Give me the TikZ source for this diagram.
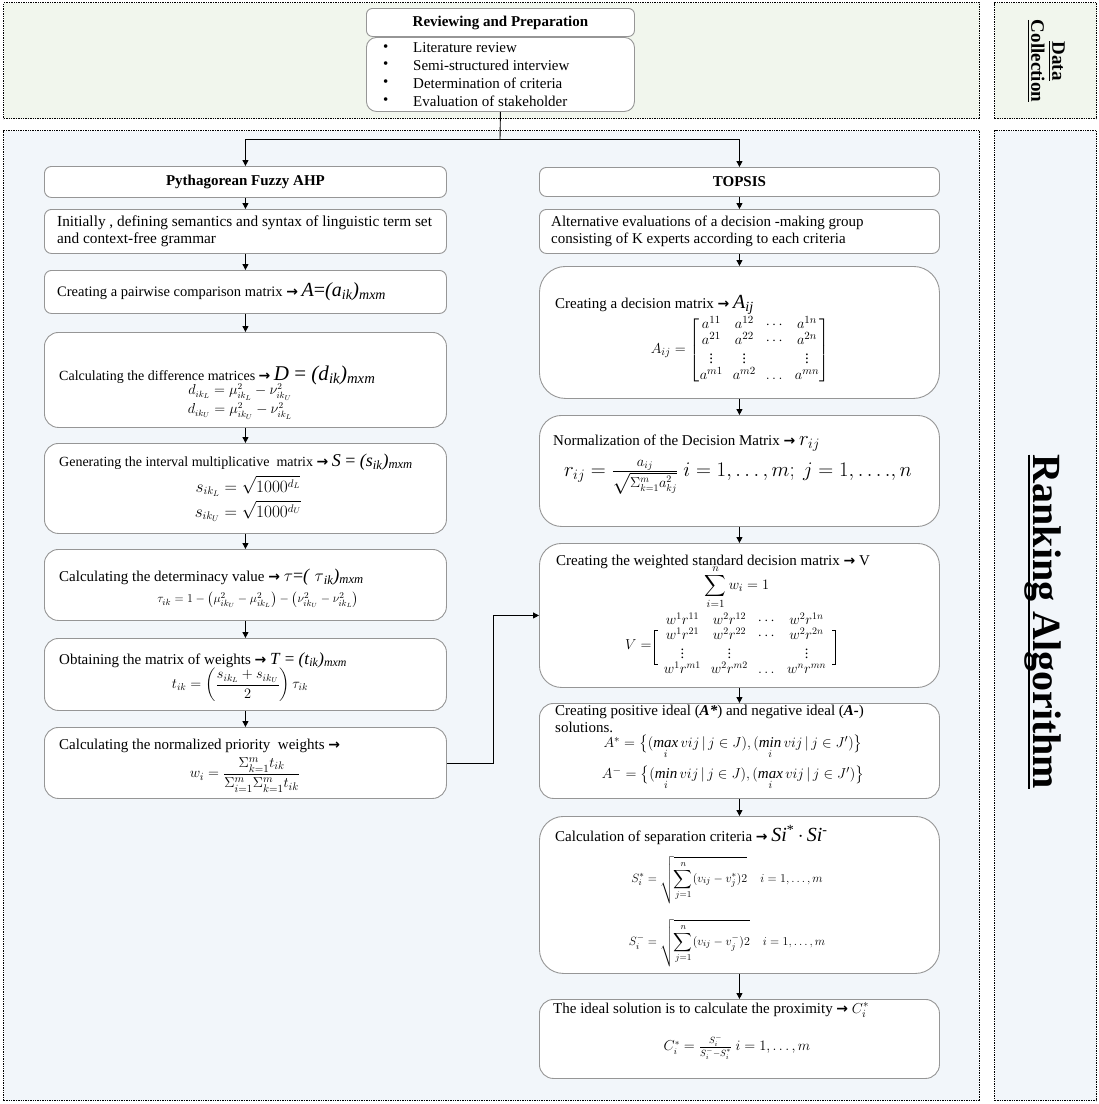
\documentclass[tikz,border=0pt]{standalone}
\usepackage{amsmath,amssymb}
\usepackage{fontspec}
\setmainfont{Liberation Serif}
\newfontfamily\djv{DejaVu Sans}
\usetikzlibrary{arrows.meta,calc}
\definecolor{tfill}{RGB}{241,246,237}
\definecolor{bfill}{RGB}{242,246,250}
\definecolor{bgray}{RGB}{150,150,150}
\newcommand{\myarr}{{\djv\bfseries\fontsize{14}{14}\selectfont →}}
\newcommand{\fsz}[1]{\fontsize{#1}{#1}\selectfont}
\newcommand{\tsub}[1]{\textsubscript{\itshape #1}}
\begin{document}
\begin{tikzpicture}[x=1pt,y=-1pt,
  frame/.style={draw=black, densely dotted, line width=1.4pt, inner sep=0pt, anchor=north west},
  box/.style={draw=bgray, fill=white, line width=0.9pt, rounded corners=#1, inner sep=0pt, anchor=north west},
  box/.default=7pt,
  arr/.style={-{Triangle[length=6pt,width=6pt]}, line width=0.9pt},
  con/.style={line width=0.9pt},
  txt/.style={inner sep=0pt, anchor=west, align=left, font=\fontsize{15}{17}\selectfont},
  fml/.style={inner sep=0pt, font=\fsz{14}}]
\useasboundingbox (0,0) rectangle (1099,1104);

% frames
\node[frame, fill=tfill, minimum width=976pt, minimum height=116pt] (dcframe) at (3,2) {};
\node[frame, fill=tfill, minimum width=102pt, minimum height=116pt] (dclab) at (994,2) {};
\node[frame, fill=bfill, minimum width=976pt, minimum height=970pt] (raframe) at (3,130) {};
\node[frame, fill=bfill, minimum width=102pt, minimum height=970pt] (ralab) at (994,130) {};

\node[rotate=-90, inner sep=0pt, align=center, font=\bfseries\fontsize{19}{21}\selectfont] (dctext) at (1046,61) {\underline{Data}\\\underline{Collection}};
\node[rotate=-90, inner sep=0pt, anchor=base, font=\bfseries\fontsize{40}{44}\selectfont] (ratext) at (1033,622) {Ranking Algorithm};
\draw[line width=2.6pt] ($(ratext.base west)+(-4,0)$) -- ($(ratext.base east)+(-4,0)$);

% top block
\node[box=6pt, minimum width=268pt, minimum height=28pt, font=\bfseries\fsz{15}] (hdr) at (366,8) {Reviewing and Preparation};
\node[box=10pt, minimum width=268pt, minimum height=74pt] (lst) at (366,37) {};
\foreach \y/\t [count=\i] in {48/Literature review, 65/Semi-structured interview, 83/Determination of criteria, 101/Evaluation of stakeholder}{
  \node[txt] (bul\i) at (383,\y) {•};
  \node[txt] (item\i) at (413,\y) {\t};
}

% left column
\node[box, minimum width=402pt, minimum height=31pt, font=\bfseries\fsz{15}] (L1) at (44,166) {Pythagorean Fuzzy AHP};
\node[box, minimum width=402pt, minimum height=44pt] (L2) at (44,209) {};
\node[box, minimum width=402pt, minimum height=43pt] (L3) at (44,270) {};
\node[box=14pt, minimum width=402pt, minimum height=95pt] (L4) at (44,332) {};
\node[box=14pt, minimum width=402pt, minimum height=90pt] (L5) at (44,443) {};
\node[box=14pt, minimum width=402pt, minimum height=71pt] (L6) at (44,549) {};
\node[box=14pt, minimum width=402pt, minimum height=72pt] (L7) at (44,638) {};
\node[box=14pt, minimum width=402pt, minimum height=71pt] (L8) at (44,727) {};

% right column
\node[box, minimum width=400pt, minimum height=29pt, font=\bfseries\fsz{15}] (R1) at (539,167) {TOPSIS};
\node[box, minimum width=400pt, minimum height=44pt] (R2) at (539,209) {};
\node[box=26pt, minimum width=400pt, minimum height=132pt] (R3) at (539,266) {};
\node[box=22pt, minimum width=400pt, minimum height=111pt] (R4) at (539,415) {};
\node[box=22pt, minimum width=400pt, minimum height=144pt] (R5) at (539,543) {};
\node[box=14pt, minimum width=400pt, minimum height=95pt] (R6) at (539,703) {};
\node[box=24pt, minimum width=400pt, minimum height=157pt] (R7) at (539,816) {};
\node[box=14pt, minimum width=400pt, minimum height=79pt] (R8) at (539,999) {};

% connectors
\coordinate (split) at (500,139);
\draw[con] (lst.south) -- (split);
\draw[arr] (split) -| (L1.north);
\draw[arr] (split) -| (R1.north);
\foreach \a/\b in {L1/L2,L2/L3,L3/L4,L4/L5,L5/L6,L6/L7,L7/L8,R1/R2,R2/R3,R3/R4,R4/R5,R5/R6,R6/R7,R7/R8}
  \draw[arr] (\a.south) -- (\b.north);
\coordinate (mid) at ($(L8.east)!0.5!(R5.west)$);
\draw[arr] (L8.east) -| (mid |- R5.west) -- (R5.west);

% left texts
\node[txt, font=\fontsize{15.3}{17}\selectfont] (t2) at (57,231) {Initially , defining semantics and syntax of linguistic term set\\and context-free grammar};
\node[txt, font=\fsz{14.5}] (t3) at (57,292) {Creating a pairwise comparison matrix \myarr{} {\fsz{20}\textit{A}=\textit{(a}\tsub{ik}\textit{)}\tsub{mxm}}};
\node[txt, font=\fsz{14}] (t4) at (59,375) {Calculating the difference matrices \myarr{} {\fsz{21}\textit{D}\ =\ \textit{(d}\tsub{ik}\textit{)}\tsub{mxm}}};
\node[fml, font=\fsz{13.5}] (f4a) at (240,392) {$d_{ik_L} = \mu^2_{ik_L} - \nu^2_{ik_U}$};
\node[fml, font=\fsz{13.5}] (f4b) at (240,411) {$d_{ik_U} = \mu^2_{ik_U} - \nu^2_{ik_L}$};
\node[txt, font=\fsz{14}] (t5) at (59,462) {Generating the interval multiplicative\ \ matrix \myarr{} {\fsz{18}\textit{S} = \textit{(s}\tsub{ik}\textit{)}\tsub{mxm}}};
\node[fml, font=\fsz{16}] (f5a) at (248,486) {$s_{ik_L} = \sqrt{1000^{d_L}}$};
\node[fml, font=\fsz{16}] (f5b) at (248,511) {$s_{ik_U} = \sqrt{1000^{d_U}}$};
\node[txt] (t6) at (59,577) {Calculating the determinacy value \myarr{} {\fsz{18}$\tau${=}\textit{(} $\tau$\tsub{ik}\textit{)}\tsub{mxm}}};
\node[fml, font=\fsz{13}] (f6) at (258,600) {$\tau_{ik} = 1 - \bigl(\mu^2_{ik_U} - \mu^2_{ik_L}\bigr) - \bigl(\nu^2_{ik_U} - \nu^2_{ik_L}\bigr)$};
\node[txt] (t7) at (59,660) {Obtaining the matrix of weights \myarr{} {\fsz{17}\textit{T} = \textit{(t}\tsub{ik}\textit{)}\tsub{mxm}}};
\node[fml] (f7) at (240,685) {$t_{ik} = \left(\dfrac{s_{ik_L} + s_{ik_U}}{2}\right)\tau_{ik}$};
\node[txt] (t8) at (59,746) {Calculating the normalized priority\ \ weights \myarr};
\node[fml, font=\fsz{15}] (f8) at (245,775) {$w_i = \dfrac{\Sigma_{k=1}^m t_{ik}}{\Sigma_{i=1}^m \Sigma_{k=1}^m t_{ik}}$};

% right texts
\node[txt] (r2) at (551,231) {Alternative evaluations of a decision -making group\\consisting of K experts according to each criteria};
\node[txt] (r3) at (555,305) {Creating a decision matrix \myarr{} {\fsz{20}\textit{A}\tsub{ij}}};
\node[fml, font=\fsz{15}] (r3m) at (740,350) {\def\arraystretch{0.8}$A_{ij} = \begin{bmatrix} a^{11} & a^{12} & \cdots & a^{1n}\\ a^{21} & a^{22} & \cdots & a^{2n}\\ \vdots & \vdots & & \vdots\\ a^{m1} & a^{m2} & \dots & a^{mn}\end{bmatrix}$};
\node[txt] (r4) at (553,443) {Normalization of the Decision Matrix \myarr{} {\fsz{22}$r_{ij}$}};
\node[fml, font=\fsz{20}] (r4f) at (738,477) {$r_{ij} = \frac{a_{ij}}{\sqrt{\Sigma_{k=1}^m a_{kj}^2}}\ i = 1,\ldots,m;\ j = 1,\ldots.,n$};
\node[txt] (r5) at (556,562) {Creating the weighted standard decision matrix \myarr{} V};
\node[fml, font=\fsz{15}] (r5s) at (737,587) {$\displaystyle\sum_{i=1}^n w_i = 1$};
\node[fml, font=\fsz{14.5}] (r5m) at (745,645) {\def\arraystretch{0.8}$\begin{array}{cccc} w^1r^{11} & w^2r^{12} & \cdots & w^2r^{1n}\\ w^1r^{21} & w^2r^{22} & \cdots & w^2r^{2n}\\ \vdots & \vdots & & \vdots\\ w^1r^{m1} & w^2r^{m2} & \dots & w^nr^{mn}\end{array}$};
\node[fml, font=\fsz{15}, anchor=east] (r5v) at ($(r5m.west)+(-7,0)$) {$V =$};
\draw[con, line width=0.7pt] ($(r5m.north west)+(-1,18)$) -- ++(-3,0) -- ($(r5m.south west)+(-4,-13)$) -- ++(3,0);
\draw[con, line width=0.7pt] ($(r5m.north east)+(1,18)$) -- ++(3,0) -- ($(r5m.south east)+(4,-13)$) -- ++(-3,0);
\node[txt] (r6) at (555,719) {Creating positive ideal (\textbf{\textit{A*}}) and negative ideal (\textbf{\textit{A-}})\\solutions.};
\node[fml, font=\fsz{15}] (r6a) at (733,747) {$A^{*} = \bigl\{(\mathop{\mathit{max}}\limits_{i} vij\,|\,j \in J), (\mathop{\mathit{min}}\limits_{i} vij\,|\,j \in J')\bigr\}$};
\node[fml, font=\fsz{15}] (r6b) at (733,778) {$A^{-} = \bigl\{(\mathop{\mathit{min}}\limits_{i} vij\,|\,j \in J), (\mathop{\mathit{max}}\limits_{i} vij\,|\,j \in J')\bigr\}$};
\node[txt] (r7) at (555,835) {Calculation of separation criteria \myarr{} {\fsz{20}\textit{Si}\textsuperscript{*}\,$\cdot$\,\textit{Si}\textsuperscript{-}}};
\node[fml, font=\fsz{13}] (r7a) at (727,880) {$S_i^{*} = \sqrt{\displaystyle\sum_{j=1}^n (v_{ij} - v_j^{*})2}\quad i = 1,\ldots,m$};
\node[fml, font=\fsz{13}] (r7b) at (727,943) {$S_i^{-} = \sqrt{\displaystyle\sum_{j=1}^n (v_{ij} - v_j^{-})2}\quad i = 1,\ldots,m$};
\node[txt] (r8) at (553,1010) {The ideal solution is to calculate the proximity \myarr{} $C_i^{*}$};
\node[fml, font=\fsz{13.5}] (r8f) at (737,1047) {$C_i^{*} = \frac{S_i^{-}}{S_i^{-} - S_i^{*}}\ i = 1,\ldots,m$};
\end{tikzpicture}
\end{document}
